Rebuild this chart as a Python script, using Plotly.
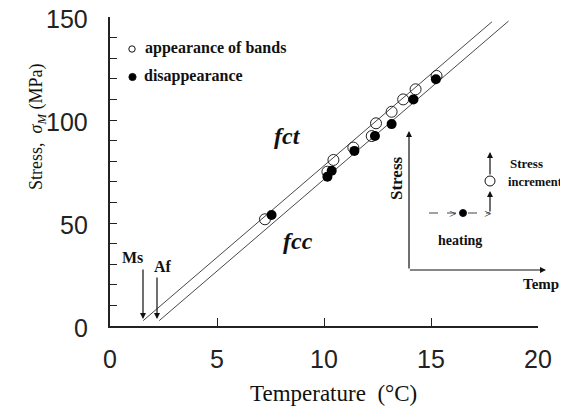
import plotly.graph_objects as go

# ---- data ----
open_x = [7.24, 10.16, 10.44, 11.37, 12.23, 12.43, 13.16, 13.70, 14.28, 15.26]
open_y = [51.8, 74.9, 80.6, 86.6, 92.2, 98.4, 104.0, 110.0, 114.9, 121.4]
filled_x = [7.55, 10.16, 10.36, 11.42, 12.38, 13.16, 14.18, 15.23]
filled_y = [53.9, 72.5, 75.4, 85.0, 92.2, 98.0, 110.0, 119.8]
ms_line_x = [1.55, 17.85]
ms_line_y = [2.6, 147.7]
af_line_x = [2.30, 18.62]
af_line_y = [2.6, 148.0]
x_ticks = [0, 5, 10, 15, 20]
y_ticks = [0, 50, 100, 150]
y_tick_labels = ["0", "50", "100", "150"]

SERIF = "Liberation Serif"
SANS = "Liberation Sans"
INK = "#111111"

OFF = 8  # page body margin
W, H = 560, 400
L, R, T, B = 102, 30, 9, 82
PW, PH = W - L - R, H - T - B


def P(px, py):
    """page pixel -> paper coordinates (for schematic decorations)"""
    return (px - OFF - L) / PW, (H - B - (py - OFF)) / PH


fig = go.Figure()
fig.add_trace(go.Scatter(x=ms_line_x, y=ms_line_y, mode="lines",
                         line=dict(color="#333333", width=0.9), showlegend=False))
fig.add_trace(go.Scatter(x=af_line_x, y=af_line_y, mode="lines",
                         line=dict(color="#333333", width=0.9), showlegend=False))
fig.add_trace(go.Scatter(x=open_x, y=open_y, mode="markers", name="appearance of bands",
                         marker=dict(symbol="circle-open", size=11, color="#222222",
                                     line=dict(width=1)), showlegend=False))
fig.add_trace(go.Scatter(x=filled_x, y=filled_y, mode="markers", name="disappearance",
                         marker=dict(symbol="circle", size=10, color="#000000"),
                         showlegend=False))

ann = []
shapes = []


def text(px, py, s, size=13, xanchor="center", angle=0, italic=False, bold=True):
    x, y = P(px, py)
    ann.append(dict(x=x, y=y, xref="paper", yref="paper", text=s, showarrow=False,
                    xanchor=xanchor, yanchor="middle", textangle=angle,
                    font=dict(family=SERIF, size=size, color=INK,
                              style="italic" if italic else "normal",
                              weight="bold" if bold else "normal")))


def arrow(hx, hy, tx, ty, width=1.2, size=1.0, head=2):
    x, y = P(hx, hy)
    ann.append(dict(x=x, y=y, xref="paper", yref="paper", ax=tx - hx, ay=ty - hy,
                    axref="pixel", ayref="pixel", text="", showarrow=True,
                    arrowhead=head, arrowsize=size, arrowwidth=width, arrowcolor=INK))


def circle(px, py, r, filled):
    x0, y0 = P(px - r, py + r)
    x1, y1 = P(px + r, py - r)
    shapes.append(dict(type="circle", xref="paper", yref="paper", x0=x0, y0=y0, x1=x1, y1=y1,
                       fillcolor="#000000" if filled else "white",
                       line=dict(color=INK, width=1)))


def seg(x0p, y0p, x1p, y1p, dash="solid", color=INK, width=1.2):
    x0, y0 = P(x0p, y0p)
    x1, y1 = P(x1p, y1p)
    shapes.append(dict(type="line", xref="paper", yref="paper", x0=x0, y0=y0, x1=x1, y1=y1,
                       line=dict(color=color, width=width, dash=dash)))


# y tick labels (placed on the y scale, offset left of the axis)
for v, lab in zip(y_ticks, y_tick_labels):
    ann.append(dict(x=0, y=v, xref="paper", yref="y", text=lab, showarrow=False,
                    xanchor="right", yanchor="middle", xshift=-20, yshift=-2,
                    font=dict(family=SANS, size=25, color="#222222")))

# legend (in-plot)
circle(132, 49, 3.2, False)
circle(132.5, 77, 3.6, True)
text(143, 48, "appearance of bands", size=16, xanchor="left")
text(142, 76, "disappearance", size=16, xanchor="left")

# phase labels
text(287, 136, "fct", size=24, italic=True)
text(298, 241, "fcc", size=24, italic=True)

# Ms / Af
text(132, 257, "Ms", size=16)
text(163, 266, "Af", size=16)
arrow(143, 319, 143, 268)
arrow(157, 319, 157, 276)

# inset schematic
arrow(409, 131, 409, 270)
arrow(546, 270, 408.4, 270)
text(396, 178, "Stress", size=17, angle=-90)
text(541, 284, "Temp", size=15)
seg(429, 213, 458, 213, dash="dash", color="#444444", width=1)
seg(468, 213, 490, 213, dash="dash", color="#444444", width=1)
text(452, 213, "&gt;", size=13, bold=False)
text(487, 213, "&gt;", size=13, bold=False)
circle(463, 213, 3.5, True)
arrow(490, 191, 490, 213)
arrow(490, 152, 490, 176)
circle(490, 181, 5, False)
text(460, 240, "heating", size=14)
text(508, 163, "Stress", size=13, xanchor="left")
text(506, 182, "increment", size=12.5, xanchor="left")

# axis titles
text(37, 127, "Stress,  <i>σ<sub>M</sub></i> (MPa)", size=18, angle=-90, bold=False)
text(333, 393, "Temperature  (°C)", size=23, bold=False)

fig.update_layout(
    width=W, height=H, margin=dict(l=L, r=R, t=T, b=B, autoexpand=False),
    paper_bgcolor="white", plot_bgcolor="white",
    showlegend=False, annotations=ann, shapes=shapes,
    xaxis=dict(range=[0, 20], tickvals=x_ticks, ticks="inside", ticklen=8,
               tickcolor="#222222", tickwidth=1.3, showline=True, linecolor="#222222",
               linewidth=1.6, showgrid=False, zeroline=False,
               tickfont=dict(family=SANS, size=25, color="#222222"),
               ticklabelstandoff=10),
    yaxis=dict(range=[0, 150], tickvals=y_ticks, ticks="inside", ticklen=7,
               tickcolor="#222222", tickwidth=1.3, showline=True, linecolor="#222222",
               linewidth=1.6, showgrid=False, zeroline=False, showticklabels=False,
               minor=dict(ticks="inside", dtick=10, ticklen=7, tickcolor="#222222",
                          tickwidth=1.3, showgrid=False)),
)

fig.write_html("out.html")
